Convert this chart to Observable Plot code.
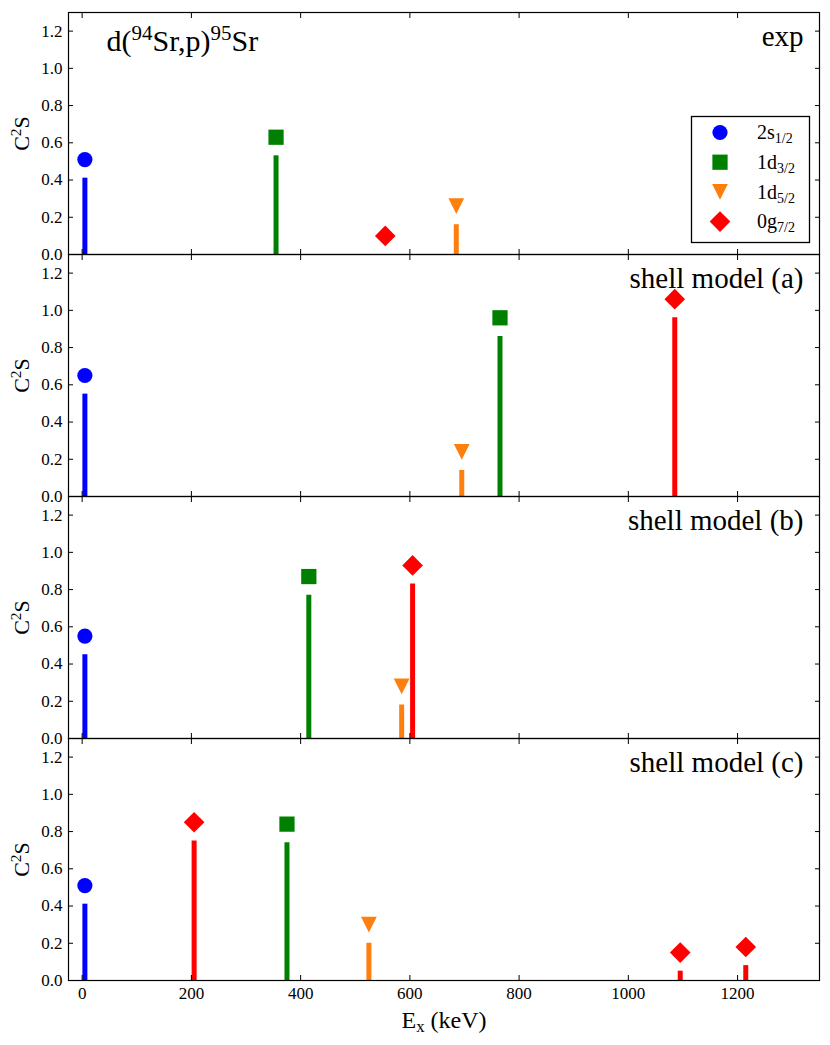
<!DOCTYPE html>
<html><head><meta charset="utf-8">
<script src="https://cdn.jsdelivr.net/npm/d3@7"></script>
<script src="https://cdn.jsdelivr.net/npm/@observablehq/plot@0.6"></script>
<style>
body{margin:0;background:#fff;}
#wrap{position:relative;width:830px;height:1045px;font-family:"Liberation Serif","Times New Roman",serif;}
#wrap svg, #wrap svg text, #wrap svg tspan{font-family:"Liberation Serif","Times New Roman",serif !important;}
#legend{position:absolute;left:0;top:0;overflow:visible;pointer-events:none;}
</style></head><body><div id="wrap"></div>
<script>
// ---------------- data ----------------
const panels = ["exp", "shell model (a)", "shell model (b)", "shell model (c)"];
const orbitals = ["2s", "1d3", "1d5", "0g"];
const orbitalLabels = ["2s<sub>1/2</sub>", "1d<sub>3/2</sub>", "1d<sub>5/2</sub>", "0g<sub>7/2</sub>"];
const orbitalColors = ["#0000ff", "#008000", "#ff7f0e", "#ff0000"];

const expEx  = [5, 355, 555, 685];
const expOrb = ["2s", "1d3", "0g", "1d5"];
const expC2S = [0.41, 0.53, 0.00, 0.16];

const smaEx  = [5, 695, 765, 1085];
const smaOrb = ["2s", "1d5", "1d3", "0g"];
const smaC2S = [0.55, 0.14, 0.86, 0.96];

const smbEx  = [5, 415, 585, 605];
const smbOrb = ["2s", "1d3", "1d5", "0g"];
const smbC2S = [0.45, 0.77, 0.18, 0.83];

const smcEx  = [5, 205, 375, 525, 1095, 1215];
const smcOrb = ["2s", "0g", "1d3", "1d5", "0g", "0g"];
const smcC2S = [0.41, 0.75, 0.74, 0.20, 0.05, 0.08];

const xTicks = [0, 200, 400, 600, 800, 1000, 1200];
const yTicks = [0, 0.2, 0.4, 0.6, 0.8, 1.0, 1.2];
const markerOffset = 0.1;

const titleText = "d(<sup>94</sup>Sr,p)<sup>95</sup>Sr";
const yLabel = "C<sup>2</sup>S";
const xLabel = "E<sub>x</sub> (keV)";

// ---------------- table ----------------
const sets = [[expEx, expOrb, expC2S], [smaEx, smaOrb, smaC2S], [smbEx, smbOrb, smbC2S], [smcEx, smcOrb, smcC2S]];
const rows = [];
sets.forEach(([ex, orb, c2s], p) => ex.forEach((e, i) => rows.push({panel: panels[p], ex: e, orb: orb[i], c2s: c2s[i]})));

const triangleDown = {draw(ctx, size) { const h = Math.sqrt(size) / 2; ctx.moveTo(-h, -h); ctx.lineTo(h, -h); ctx.lineTo(0, h); ctx.closePath(); }};
const symbolOf = {"2s": "circle", "1d3": "square", "1d5": triangleDown, "0g": "diamond2"};
const radiusOf = {"2s": 7.6, "1d3": 8.6, "1d5": 8.9, "0g": 9.3};

const dotMarks = orbitals.map((o, k) => Plot.dot(rows.filter(d => d.orb === o), {
  x: "ex", y: d => d.c2s + markerOffset, fy: "panel",
  symbol: symbolOf[o], r: radiusOf[o], fill: orbitalColors[k], stroke: "none"
}));

const svg = Plot.plot({
  width: 830, height: 1045,
  marginLeft: 68, marginRight: 11, marginTop: 10, marginBottom: 64,
  style: {fontFamily: "'Liberation Serif', 'Times New Roman', serif", background: "transparent", overflow: "visible", color: "black"},
  x: {domain: [-25, 1350]},
  y: {domain: [0, 1.3]},
  fy: {domain: panels, axis: null, padding: 0},
  color: {domain: orbitals, range: orbitalColors},
  marks: [
    Plot.ruleX(rows, {x: "ex", y1: 0, y2: "c2s", fy: "panel", stroke: "orb", strokeWidth: 5}),
    ...dotMarks,
    Plot.frame({stroke: "black", strokeWidth: 1.2}),
    Plot.axisY({ticks: yTicks, anchor: "left", tickSize: 5, dx: 5, text: null, label: null, facetAnchor: null, strokeWidth: 1}),
    Plot.axisY({ticks: yTicks, anchor: "right", tickSize: 5, dx: -5, text: null, label: null, facetAnchor: null, strokeWidth: 1}),
    Plot.axisX({ticks: xTicks, anchor: "bottom", tickSize: 5, dy: -5, text: null, label: null, facetAnchor: null, strokeWidth: 1}),
    Plot.axisX({ticks: xTicks, anchor: "top", tickSize: 5, dy: 5, text: null, label: null, facetAnchor: null, strokeWidth: 1}),
    Plot.axisY({ticks: yTicks, anchor: "left", tickSize: 0, tickPadding: 6, tickFormat: d3.format(".1f"), label: null, facetAnchor: null, fontSize: 17, fontVariant: "normal"}),
    Plot.axisX({ticks: xTicks, anchor: "bottom", tickSize: 0, tickPadding: 6, tickFormat: d => String(d), label: null, fontSize: 17, fontVariant: "normal"}),
    Plot.text(panels, {fy: d => d, text: d => d, frameAnchor: "top-right", textAnchor: "end", lineAnchor: "bottom", dx: -16, dy: 33, fontSize: 29, fill: "black"}),
    Plot.text([panels[0]], {fy: d => d, text: () => titleText, frameAnchor: "top-left", textAnchor: "start", lineAnchor: "bottom", dx: 38, dy: 38, fontSize: 30, fill: "black"}),
    Plot.text(panels, {fy: d => d, text: () => yLabel, frameAnchor: "left", rotate: -90, dx: -47, fontSize: 22, textAnchor: "middle", lineAnchor: "middle", fill: "black"}),
    Plot.text([panels[3]], {fy: d => d, text: () => xLabel, frameAnchor: "bottom", lineAnchor: "bottom", dy: 47, fontSize: 24, fill: "black"})
  ]
});
const wrap = document.getElementById("wrap");
wrap.appendChild(svg);

// ---------------- legend ----------------
const NS = "http://www.w3.org/2000/svg";
const leg = document.createElementNS(NS, "svg");
leg.setAttribute("id", "legend");
leg.setAttribute("width", 830); leg.setAttribute("height", 1045);
const box = document.createElementNS(NS, "rect");
box.setAttribute("x", 691.5); box.setAttribute("y", 116.5);
box.setAttribute("width", 118); box.setAttribute("height", 126);
box.setAttribute("fill", "white"); box.setAttribute("stroke", "black"); box.setAttribute("stroke-width", 1.3);
leg.appendChild(box);
orbitals.forEach((o, i) => {
  const cy = 132.5 + 29.7 * i;
  const r = radiusOf[o];
  const sym = typeof symbolOf[o] === "string" ? {circle: d3.symbolCircle, square: d3.symbolSquare, diamond2: d3.symbolDiamond2}[symbolOf[o]] : symbolOf[o];
  const p = document.createElementNS(NS, "path");
  p.setAttribute("d", d3.symbol(sym, r * r * Math.PI)());
  p.setAttribute("transform", `translate(720,${cy})`);
  p.setAttribute("fill", orbitalColors[i]);
  leg.appendChild(p);
  const t = document.createElementNS(NS, "text");
  t.setAttribute("x", 757); t.setAttribute("y", cy + 6.8);
  t.setAttribute("font-size", 20);
  t.textContent = orbitalLabels[i];
  leg.appendChild(t);
});
wrap.appendChild(leg);

// ---------------- rich text (super/subscripts) ----------------
function richify(el) {
  const s = el.textContent;
  if (!/<su[pb]>/.test(s)) return;
  const fs = parseFloat(getComputedStyle(el).fontSize);
  while (el.firstChild) el.removeChild(el.firstChild);
  const re = /<(sup|sub)>(.*?)<\/\1>/g;
  let last = 0, m, shift = 0;
  const add = (txt, kind) => {
    const t = document.createElementNS(NS, "tspan");
    t.textContent = txt;
    const target = kind === "sup" ? -0.36 * fs : kind === "sub" ? 0.2 * fs : 0;
    const d = target - shift;
    if (d) t.setAttribute("dy", d.toFixed(2));
    if (kind) t.setAttribute("font-size", (0.7 * fs).toFixed(2));
    shift = target;
    el.appendChild(t);
  };
  while ((m = re.exec(s))) {
    if (m.index > last) add(s.slice(last, m.index), null);
    add(m[2], m[1]);
    last = re.lastIndex;
  }
  if (last < s.length) add(s.slice(last), null);
}
wrap.querySelectorAll("text").forEach(richify);
</script></body></html>
